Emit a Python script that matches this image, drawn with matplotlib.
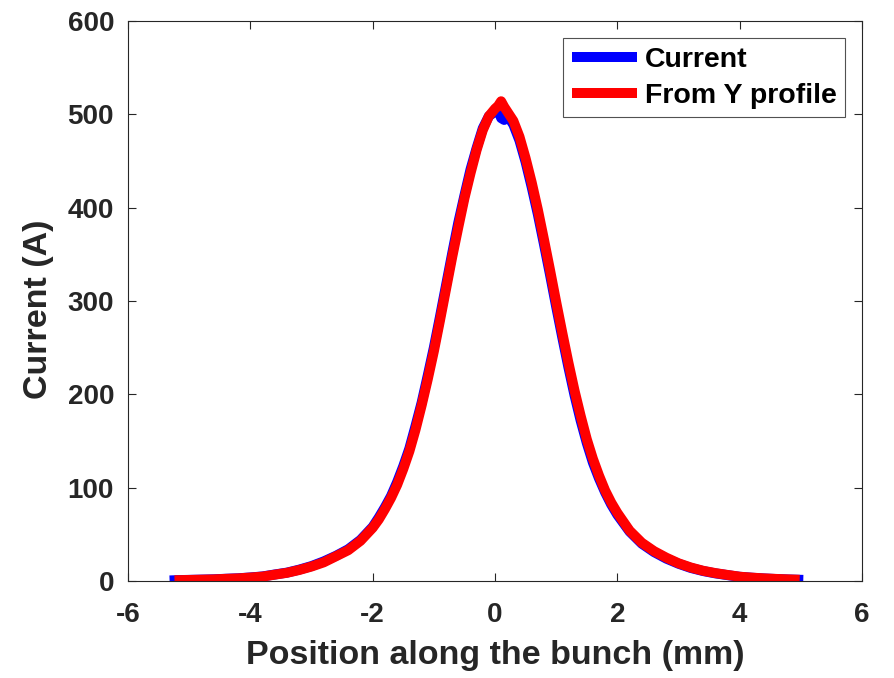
import matplotlib
matplotlib.use("Agg")
import matplotlib.pyplot as plt

plt.rcParams['font.family'] = ['Liberation Sans', 'DejaVu Sans']
plt.rcParams['font.weight'] = 'bold'

# Data
x_current = [-5.32, -5.2, -5.0, -4.8, -4.6, -4.4, -4.2, -4.0, -3.8, -3.6, -3.4, -3.2,
             -3.0, -2.8, -2.6, -2.4, -2.2,
             -2.0, -1.9, -1.8, -1.7, -1.6, -1.5, -1.4, -1.3, -1.2, -1.1, -1.0,
             -0.9, -0.8, -0.7, -0.6, -0.5, -0.4, -0.3, -0.2, -0.1, 0.0, 0.05, 0.1, 0.15,
             0.2, 0.3, 0.4, 0.5, 0.6, 0.7, 0.8, 0.9, 1.0, 1.1, 1.2, 1.3, 1.4, 1.5,
             1.6, 1.7, 1.8, 1.9, 2.0,
             2.2, 2.4, 2.6, 2.8, 3.0, 3.2, 3.4, 3.6, 3.8, 4.0, 4.2, 4.4, 4.6, 4.8, 5.04]
y_current = [0.6, 0.9, 1.2, 1.5, 1.8, 2.4, 2.9, 3.8, 4.9, 7.0, 9.0, 12.2,
             16.0, 21.0, 27.0, 34.0, 44.0,
             58.0, 68.0, 79.0, 91.0, 106.0, 123.0, 142.0, 166.0, 191.0, 220.0, 250.0,
             283.0, 317.0, 351.0, 384.0, 413.0, 441.0, 464.0, 485.0, 498.0, 503.0, 506.0, 496.0, 494.0,
             499.0, 489.0, 472.0, 449.0, 422.0, 393.0, 361.0, 328.0, 294.0, 261.0, 229.0, 199.0, 172.0, 148.0,
             127.0, 110.0, 95.0, 82.0, 71.0,
             53.0, 40.0, 31.0, 24.0, 18.5, 14.0, 10.7, 8.2, 6.3, 4.5, 3.5, 2.7, 2.1, 1.6, 1.2]

x_yprofile = [-5.24, -5.0, -4.8, -4.6, -4.4, -4.2, -4.0, -3.8, -3.6, -3.4, -3.2,
              -3.0, -2.8, -2.6, -2.4, -2.2,
              -2.0, -1.9, -1.8, -1.7, -1.6, -1.5, -1.4, -1.3, -1.2, -1.1, -1.0,
              -0.9, -0.8, -0.7, -0.6, -0.5, -0.4, -0.3, -0.2, -0.1, 0.0, 0.05, 0.1, 0.15,
              0.2, 0.3, 0.4, 0.5, 0.6, 0.7, 0.8, 0.9, 1.0, 1.1, 1.2, 1.3, 1.4, 1.5,
              1.6, 1.7, 1.8, 1.9, 2.0,
              2.2, 2.4, 2.6, 2.8, 3.0, 3.2, 3.4, 3.6, 3.8, 4.0, 4.2, 4.4, 4.6, 4.8, 4.98]
y_yprofile = [0.8, 1.1, 1.4, 1.7, 2.3, 2.8, 3.7, 4.7, 6.8, 8.8, 11.8,
              15.5, 20.0, 26.5, 33.0, 43.0,
              57.0, 66.0, 77.0, 89.0, 103.0, 120.0, 139.0, 162.0, 188.0, 216.0, 246.0,
              279.0, 313.0, 347.0, 379.0, 410.0, 437.0, 462.0, 483.0, 498.0, 506.0, 509.0, 514.0, 508.0,
              503.0, 493.0, 476.0, 453.0, 427.0, 398.0, 366.0, 333.0, 299.0, 266.0, 234.0, 204.0, 177.0, 152.0,
              131.0, 113.0, 97.0, 84.0, 73.0,
              54.0, 41.0, 32.0, 25.0, 19.0, 14.5, 11.0, 8.5, 6.5, 4.6, 3.6, 2.8, 2.2, 1.7, 1.3]

x_ticks = [-6, -4, -2, 0, 2, 4, 6]
y_ticks = [0, 100, 200, 300, 400, 500, 600]

fig = plt.figure(figsize=(8.94, 6.78), dpi=100)
ax = fig.add_axes([128/894, 1 - 581/678, (862 - 128)/894, (581 - 21)/678])

ax.plot(x_current, y_current, color='#0000ff', lw=7.2, solid_capstyle='butt',
        solid_joinstyle='round', label='Current')
ax.plot(x_yprofile, y_yprofile, color='#ff0000', lw=7.2, solid_capstyle='butt',
        solid_joinstyle='round', label='From Y profile')

ax.set_xlim(-6, 6)
ax.set_ylim(0, 600)
ax.set_xticks(x_ticks)
ax.set_yticks(y_ticks)
ax.set_xticklabels([str(t) for t in x_ticks])
ax.set_yticklabels([str(t) for t in y_ticks])

dark = '#262626'
for s in ax.spines.values():
    s.set_color(dark)
    s.set_linewidth(0.8)
ax.tick_params(direction='in', top=True, right=True, length=6, width=0.8,
               colors=dark, labelsize=20)
ax.tick_params(axis='x', pad=15)
ax.tick_params(axis='y', pad=10)
for lbl in ax.get_xticklabels() + ax.get_yticklabels():
    lbl.set_fontweight('bold')

ax.set_xlabel('Position along the bunch (mm)', fontsize=24.5, fontweight='bold',
              color=dark, labelpad=9)
ax.set_ylabel('Current (A)', fontsize=24.5, fontweight='bold', color=dark)
ax.yaxis.set_label_coords(-74/734, 0.485)

leg = ax.legend(loc='upper right', bbox_to_anchor=(845/894, 1 - 38/678),
                bbox_transform=fig.transFigure, fontsize=20.5, frameon=True,
                fancybox=False, edgecolor=dark, handlelength=2.3,
                handletextpad=0.25, borderpad=0.3, labelspacing=0.35,
                borderaxespad=0)
leg.get_frame().set_linewidth(0.8)
for t in leg.get_texts():
    t.set_fontweight('bold')
    t.set_color('black')

fig.savefig('out.png', dpi=100)
